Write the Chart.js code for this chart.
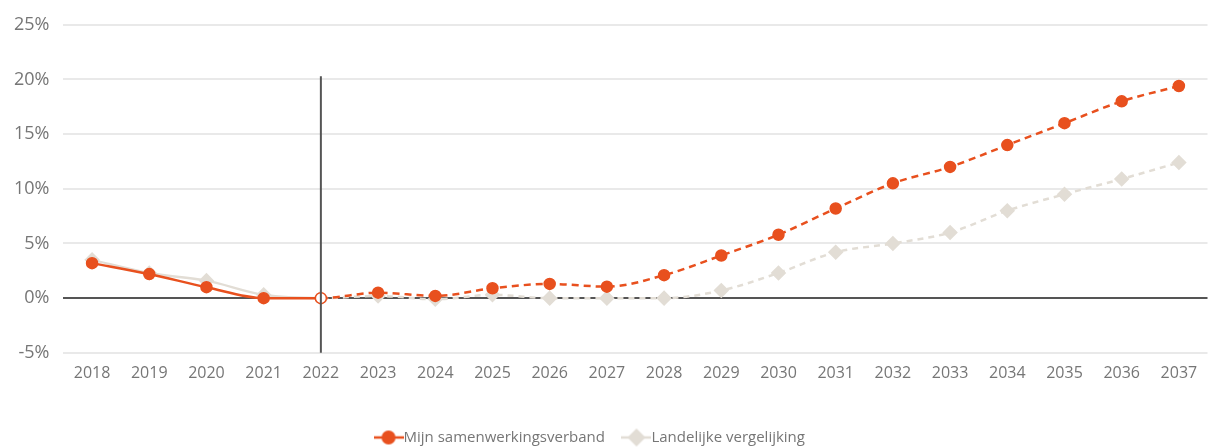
<!DOCTYPE html>
<html lang="nl">
<head>
    <meta charset="UTF-8">
    <title>Prognose</title>
    <script src="https://cdn.jsdelivr.net/npm/chart.js"></script>
    <style>
        html, body { margin: 0; padding: 0; background: #ffffff; }
        .chart-container { position: relative; width: 1216px; height: 447px; }
    </style>
</head>
<body>
<div class="chart-container">
    <canvas id="prognoseChart"></canvas>
</div>
<script>
    // data
    const years = ['2018','2019','2020','2021','2022','2023','2024','2025','2026','2027',
                   '2028','2029','2030','2031','2032','2033','2034','2035','2036','2037'];
    const mijnValues = [3.2, 2.2, 1.0, 0.0, 0.0, 0.5, 0.2, 0.9, 1.3, 1.05,
                        2.1, 3.9, 5.8, 8.2, 10.5, 12.0, 14.0, 16.0, 18.0, 19.4];
    const landelijkValues = [3.5, 2.3, 1.6, 0.3, 0.0, 0.2, -0.1, 0.3, 0.0, 0.0,
                             0.0, 0.7, 2.3, 4.2, 5.0, 6.0, 8.0, 9.5, 10.9, 12.4];
    const yTicks = [-5, 0, 5, 10, 15, 20, 25];
    const splitIndex = 4; // 2022: einde realisatie, begin prognose

    const orange = '#e8501e';
    const beige = '#e2ddd5';
    const labelGrey = '#767676';

    // legend icon: short line through the marker
    function legendIcon(color, style) {
        const c = document.createElement('canvas');
        c.width = 30; c.height = 20;
        const ctx = c.getContext('2d');
        ctx.strokeStyle = color;
        ctx.lineWidth = 2.5;
        ctx.beginPath();
        ctx.moveTo(0, 10); ctx.lineTo(30, 10);
        ctx.stroke();
        ctx.fillStyle = color;
        ctx.beginPath();
        if (style === 'circle') {
            ctx.arc(15, 10, 7, 0, Math.PI * 2);
        } else {
            ctx.moveTo(15, 1); ctx.lineTo(24, 10); ctx.lineTo(15, 19); ctx.lineTo(6, 10);
            ctx.closePath();
        }
        ctx.fill();
        return c;
    }

    const splitLine = {
        id: 'splitLine',
        afterDatasetsDraw(chart) {
            const x = chart.scales.x.getPixelForValue(splitIndex);
            const yTop = chart.scales.y.getPixelForValue(20.3);
            const yBottom = chart.chartArea.bottom;
            const ctx = chart.ctx;
            ctx.save();
            ctx.strokeStyle = '#555555';
            ctx.lineWidth = 2;
            ctx.beginPath();
            ctx.moveTo(x, yTop);
            ctx.lineTo(x, yBottom);
            ctx.stroke();
            ctx.restore();
        }
    };

    // nudge the legend box lower and a bit left, like the original
    const legendShift = {
        id: 'legendShift',
        afterLayout(chart) {
            const lg = chart.legend;
            lg.top += 12; lg.bottom += 12;
            lg.left -= 12; lg.right -= 12;
        }
    };

    const dashAfterSplit = (dash) => ({
        borderDash: ctx => ctx.p0DataIndex >= splitIndex ? dash : undefined
    });

    new Chart(document.getElementById('prognoseChart'), {
        type: 'line',
        data: {
            labels: years,
            datasets: [
                {
                    label: 'Mijn samenwerkingsverband',
                    data: mijnValues,
                    borderColor: orange,
                    backgroundColor: orange,
                    borderWidth: 2.5,
                    cubicInterpolationMode: 'monotone',
                    pointRadius: 5.5,
                    pointBackgroundColor: ctx => ctx.dataIndex === splitIndex ? '#ffffff' : orange,
                    pointBorderColor: orange,
                    pointBorderWidth: 1.5,
                    segment: dashAfterSplit([7, 5]),
                    order: 1
                },
                {
                    label: 'Landelijke vergelijking',
                    data: landelijkValues,
                    borderColor: beige,
                    backgroundColor: beige,
                    borderWidth: 2.5,
                    cubicInterpolationMode: 'monotone',
                    pointStyle: 'rectRot',
                    pointRadius: 6,
                    pointBorderColor: beige,
                    segment: dashAfterSplit([6, 5]),
                    order: 2
                }
            ]
        },
        options: {
            responsive: true,
            maintainAspectRatio: false,
            animation: false,
            layout: { padding: { top: -4, right: 6, left: 0, bottom: 4 } },
            scales: {
                x: {
                    offset: true,
                    grid: { display: false, drawTicks: false },
                    border: { display: false },
                    ticks: { color: labelGrey, font: { family: 'Open Sans', size: 16 }, padding: 11 }
                },
                y: {
                    min: -5,
                    max: 25,
                    afterBuildTicks: axis => { axis.ticks = yTicks.map(v => ({ value: v })); },
                    grid: {
                        drawTicks: false,
                        color: ctx => ctx.tick && ctx.tick.value === 0 ? '#555555' : '#e9e9e9',
                        lineWidth: 2
                    },
                    border: { display: false },
                    ticks: {
                        color: labelGrey,
                        font: { family: 'Open Sans', size: 18 },
                        padding: 14,
                        callback: v => v + '%'
                    }
                }
            },
            plugins: {
                legend: {
                    position: 'bottom',
                    labels: {
                        color: labelGrey,
                        font: { family: 'Open Sans', size: 15 },
                        usePointStyle: true,
                        padding: 24,
                        generateLabels: chart => chart.data.datasets.map((ds, i) => ({
                            text: ds.label,
                            fontColor: labelGrey,
                            pointStyle: legendIcon(ds.borderColor, i === 0 ? 'circle' : 'diamond'),
                            datasetIndex: i,
                            hidden: false,
                            lineWidth: 0
                        }))
                    }
                },
                tooltip: { enabled: false }
            }
        },
        plugins: [splitLine, legendShift]
    });
</script>
</body>
</html>
